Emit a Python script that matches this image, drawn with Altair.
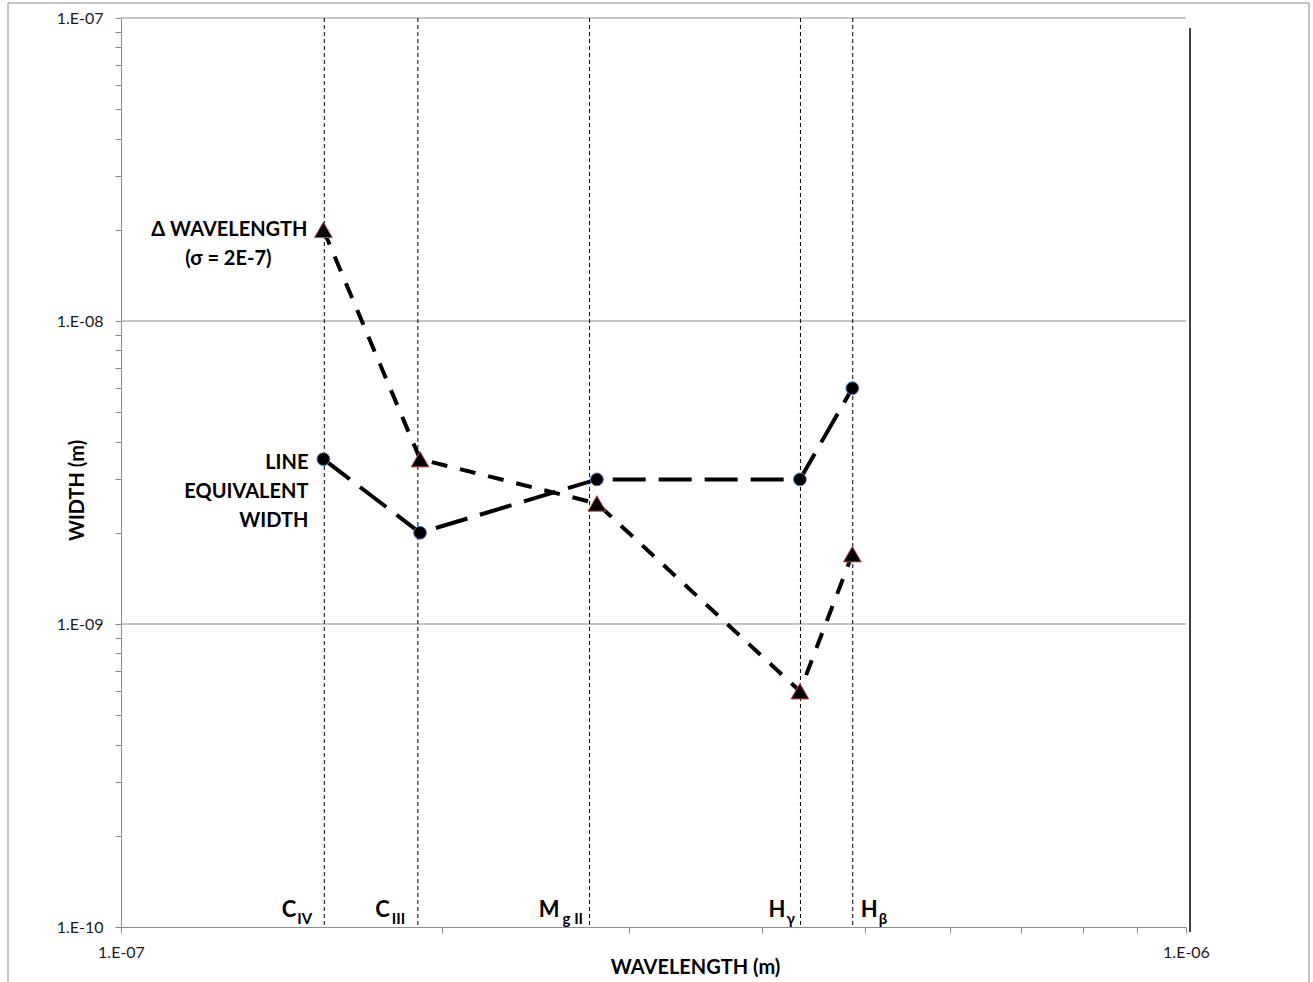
import altair as alt
import pandas as pd

# Emission lines and their measured widths (metres)
line_names = ["C IV", "C III", "Mg II", "H gamma", "H beta"]
wavelength = [1.549e-7, 1.909e-7, 2.798e-7, 4.340e-7, 4.861e-7]
equiv_width = [3.5e-9, 2.0e-9, 3.0e-9, 3.0e-9, 6.0e-9]
delta_wavelength = [2.0e-8, 3.5e-9, 2.5e-9, 6.0e-10, 1.7e-9]

# Reference wavelengths of the dashed vertical guides
guide_wavelength = [1.552e-7, 1.900e-7, 2.754e-7, 4.345e-7, 4.865e-7]

# Line labels: main symbol and its subscript
label_main = ["C", "C", "M", "H", "H"]
label_sub = ["IV", "III", "g II", "γ", "β"]

# Axis ticks (decades are labelled, the rest are minor ticks)
x_ticks = [m * 1e-7 for m in range(1, 10)] + [1e-6]
y_ticks = [m * d for d in [1e-10, 1e-9, 1e-8] for m in range(1, 10)] + [1e-7]
grid_levels = [1e-9, 1e-8, 1e-7]

W, H = 1065, 909
FONT = "Lato"
GRAY = "#8c8c8c"

df = pd.DataFrame({
    "line": line_names,
    "wavelength": wavelength,
    "equiv_width": equiv_width,
    "delta_wavelength": delta_wavelength,
})
guides = pd.DataFrame({"wavelength": guide_wavelength})
grid = pd.DataFrame({"level": grid_levels})
one = pd.DataFrame({"k": [0]})

decade_test = "abs(log(datum.value)/LN10 - round(log(datum.value)/LN10)) < 0.001"
decade_label = (f"{decade_test} ? '1.E-' + format(-round(log(datum.value)/LN10), '02d') : ''")

xscale = alt.Scale(type="log", domain=[1e-7, 1e-6], nice=False)
yscale = alt.Scale(type="log", domain=[1e-10, 1e-7], nice=False)

x_axis = alt.Axis(
    values=x_ticks, labelExpr=decade_label, grid=False,
    domainColor=GRAY, tickColor=GRAY, tickSize=6, labelPadding=11,
    labelFont=FONT, labelFontSize=16, labelColor="#1a1a1a",
    labelFlush=False, labelOverlap=False,
    title="WAVELENGTH (m)", titleFont=FONT, titleFontSize=20,
    titleFontWeight="bold", titleColor="black",
    titleX=574, titleY=40, titleBaseline="middle", titleAlign="center",
)
y_axis = alt.Axis(
    values=y_ticks, labelExpr=decade_label, grid=False,
    domainColor=GRAY, tickColor=GRAY, tickSize=6, labelPadding=12,
    labelFont=FONT, labelFontSize=16, labelColor="#1a1a1a",
    labelFlush=False, labelOverlap=False,
    title="WIDTH (m)", titleFont=FONT, titleFontSize=20,
    titleFontWeight="bold", titleColor="black",
    titleX=-44, titleY=472, titleBaseline="middle", titleAlign="center",
)

# Outer chart frame
frame = alt.Chart(one).mark_rect(fillOpacity=0, stroke=GRAY, strokeWidth=1).encode(
    x=alt.value(-113), x2=alt.value(1188), y=alt.value(-15), y2=alt.value(975)
)

# Horizontal gridlines at the decades
gridlines = alt.Chart(grid).mark_rule(color=GRAY, strokeWidth=1).encode(
    y=alt.Y("level:Q", scale=yscale, axis=y_axis)
)

x_enc = alt.X("wavelength:Q", scale=xscale, axis=x_axis)

# Dashed vertical guides through each emission line
guide_rules = alt.Chart(guides).mark_rule(color="black", strokeWidth=1, strokeDash=[4, 3]).encode(
    x=x_enc
)

# Black edge line on the right of the plot
edge = alt.Chart(one).mark_rule(color="black", strokeWidth=1.5).encode(
    x=alt.value(W + 4), y=alt.value(10), y2=alt.value(H + 5)
)

ew_y = alt.Y("equiv_width:Q", scale=yscale, axis=y_axis)
dw_y = alt.Y("delta_wavelength:Q", scale=yscale, axis=y_axis)

ew_line = alt.Chart(df).mark_line(color="black", strokeWidth=4, strokeDash=[33, 13]).encode(
    x=x_enc, y=ew_y, order="wavelength:Q"
)
dw_line = alt.Chart(df).mark_line(color="black", strokeWidth=4, strokeDash=[16, 13]).encode(
    x=x_enc, y=dw_y, order="wavelength:Q"
)
ew_pts = alt.Chart(df).mark_point(
    shape="circle", filled=True, color="black", stroke="#4f81bd", strokeWidth=1,
    size=165, opacity=1,
).encode(x=x_enc, y=ew_y)
dw_pts = alt.Chart(df).mark_point(
    shape="triangle-up", filled=True, color="black", stroke="#c0504d", strokeWidth=1,
    size=320, opacity=1,
).encode(x=x_enc, y=dw_y)

# Line symbols with subscripts beside each guide
main_shift = [-28, -28, -30, -15, 25]
sub_gap = [1, 2, 3, 1, 1]
label_layers = []
for i in range(len(label_main)):
    d = pd.DataFrame({"wavelength": [guide_wavelength[i]], "main": [label_main[i]],
                      "sub": [label_sub[i]]})
    label_layers.append(
        alt.Chart(d).mark_text(align="right", baseline="alphabetic", dx=main_shift[i],
                               font=FONT, fontSize=22, fontWeight="bold", color="black")
        .encode(x=x_enc, y=alt.value(H - 10), text="main:N")
    )
    label_layers.append(
        alt.Chart(d).mark_text(align="left", baseline="alphabetic",
                               dx=main_shift[i] + sub_gap[i],
                               font=FONT, fontSize=15, fontWeight="bold", color="black")
        .encode(x=x_enc, y=alt.value(H - 3), text="sub:N")
    )

# Series annotations next to the first points
first = df.iloc[[0]]
anno_style = dict(font=FONT, fontSize=20, fontWeight="bold", color="black", baseline="middle")
annotations = [
    alt.Chart(first).mark_text(align="center", dx=-94, dy=0, **anno_style)
    .encode(x=x_enc, y=dw_y, text=alt.value("Δ WAVELENGTH")),
    alt.Chart(first).mark_text(align="center", dx=-95, dy=29, **anno_style)
    .encode(x=x_enc, y=dw_y, text=alt.value("(σ = 2E-7)")),
    alt.Chart(first).mark_text(align="right", dx=-15, dy=4, **anno_style)
    .encode(x=x_enc, y=ew_y, text=alt.value("LINE")),
    alt.Chart(first).mark_text(align="right", dx=-15, dy=33, **anno_style)
    .encode(x=x_enc, y=ew_y, text=alt.value("EQUIVALENT")),
    alt.Chart(first).mark_text(align="right", dx=-15, dy=62, **anno_style)
    .encode(x=x_enc, y=ew_y, text=alt.value("WIDTH")),
]

chart = alt.layer(
    frame, gridlines, guide_rules, edge, ew_line, dw_line, ew_pts, dw_pts,
    *label_layers, *annotations,
).properties(
    width=W, height=H,
    autosize=alt.AutoSizeParams(type="none"),
    padding={"left": 121, "top": 18, "right": 127, "bottom": 55},
    background="white",
).configure_view(stroke=None)

chart.save("out.html", embed_options={"renderer": "svg", "actions": False})
